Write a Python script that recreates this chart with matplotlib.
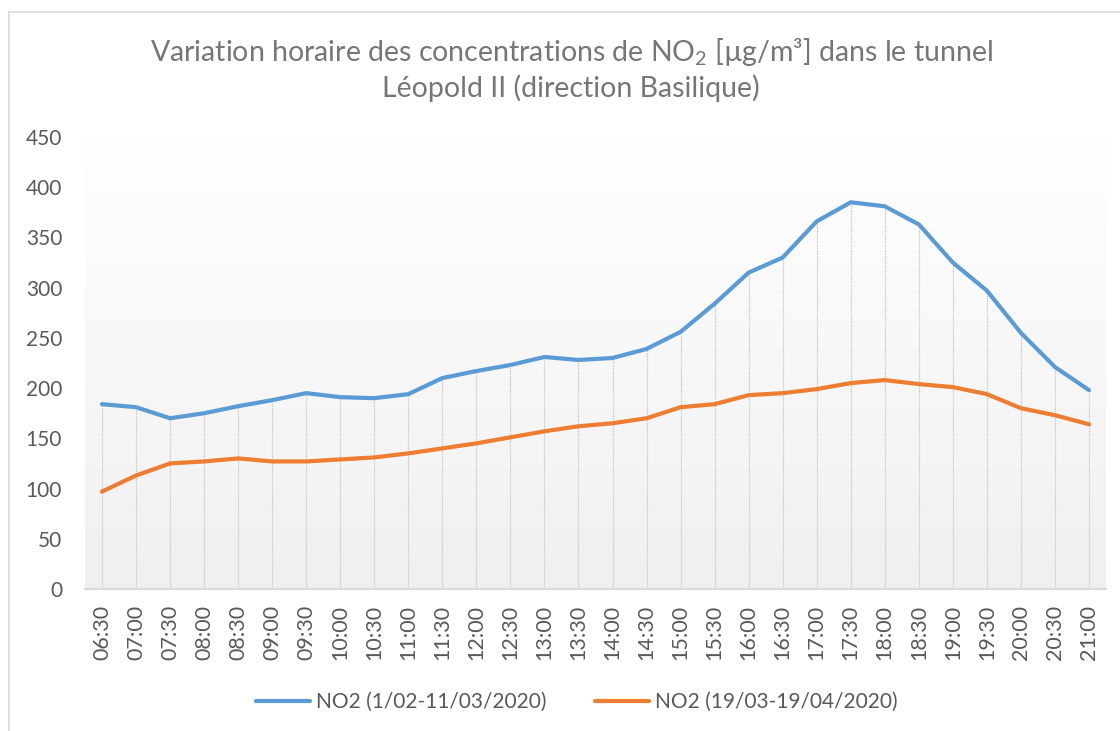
import numpy as np
import matplotlib
matplotlib.use("Agg")
import matplotlib.pyplot as plt
from matplotlib.lines import Line2D
from matplotlib.colors import LinearSegmentedColormap

hours = ["06:30", "07:00", "07:30", "08:00", "08:30", "09:00", "09:30", "10:00",
         "10:30", "11:00", "11:30", "12:00", "12:30", "13:00", "13:30", "14:00",
         "14:30", "15:00", "15:30", "16:00", "16:30", "17:00", "17:30", "18:00",
         "18:30", "19:00", "19:30", "20:00", "20:30", "21:00"]
no2_before = [184, 181, 170, 175, 182, 188, 195, 191, 190, 194, 210, 217, 223, 231,
              228, 230, 239, 256, 284, 315, 330, 366, 385, 381, 363, 325, 297, 255, 221, 198]
no2_lockdown = [97, 113, 125, 127, 130, 127, 127, 129, 131, 135, 140, 145, 151, 157,
                162, 165, 170, 181, 184, 193, 195, 199, 205, 208, 204, 201, 194, 180, 173, 164]
label_before = "NO2 (1/02-11/03/2020)"
label_lockdown = "NO2 (19/03-19/04/2020)"
yticks = [0, 50, 100, 150, 200, 250, 300, 350, 400, 450]

FONT = "Lato"
TXT = "#595959"
TITLE_C = "#767676"
plt.rcParams['font.family'] = [FONT, 'DejaVu Sans']
plt.rcParams['mathtext.fontset'] = 'custom'
plt.rcParams['mathtext.rm'] = FONT

W, H = 1120, 731
fig = plt.figure(figsize=(W / 100, H / 100), dpi=100)
fig.patch.set_facecolor("white")

ax = fig.add_axes([85 / W, 1 - 589 / H, (1106 - 85) / W, (589 - 137) / H])
ax.set_facecolor("none")

# gradient background
grad = np.linspace(0, 1, 256).reshape(-1, 1)
cmap = LinearSegmentedColormap.from_list("g", ["#f0f0f0", "#ffffff"])
ax.imshow(grad, extent=[0, 1, 0, 1], transform=ax.transAxes, aspect="auto",
          cmap=cmap, origin="lower", zorder=0, interpolation="bicubic")

x = np.arange(len(hours))
top = np.maximum(no2_before, no2_lockdown)
ax.vlines(x, 0, top, colors="#bfbfbf", linestyles=(0, (1, 1)), linewidth=0.9, zorder=1)

ax.plot(x, no2_before, color="#5b9bd5", lw=3.0, solid_capstyle="round",
        solid_joinstyle="round", label=label_before, zorder=3)
ax.plot(x, no2_lockdown, color="#ed7d31", lw=3.0, solid_capstyle="round",
        solid_joinstyle="round", label=label_lockdown, zorder=3)

ax.set_xlim(-0.5, len(hours) - 0.5)
ax.set_ylim(0, 450)
ax.set_yticks(yticks)
ax.set_yticklabels([str(v) for v in yticks])
ax.set_xticks(x)
ax.set_xticklabels(hours, rotation=90)
ax.tick_params(axis="both", length=0, labelcolor=TXT)
ax.tick_params(axis="y", pad=16.5, labelsize=15)
ax.tick_params(axis="x", pad=11.5, labelsize=15.5)
for s in ["top", "right", "left"]:
    ax.spines[s].set_visible(False)
ax.spines["bottom"].set_color("#d9d9d9")
ax.spines["bottom"].set_linewidth(1.6)
ax.spines["bottom"].set_zorder(4)

fig.text(571 / W, 1 - 52 / H,
         "Variation horaire des concentrations de NO$_\\mathregular{2}$ [µg/m³] dans le tunnel",
         ha="center", va="center", color=TITLE_C, fontsize=20.5)
fig.text(571 / W, 1 - 88 / H, "Léopold II (direction Basilique)",
         ha="center", va="center", color=TITLE_C, fontsize=20.5)

leg = fig.legend(loc="center", bbox_to_anchor=(577 / W, 1 - 702 / H), ncol=2,
                 frameon=False, fontsize=15, handlelength=2.6, columnspacing=2.3,
                 handletextpad=0.3)
for t in leg.get_texts():
    t.set_color(TXT)

# chart border (left and top visible)
fig.add_artist(Line2D([8.5 / W, 8.5 / W], [0, 1 - 12 / H], transform=fig.transFigure,
                      color="#d9d9d9", lw=1.2))
fig.add_artist(Line2D([8.5 / W, 1.0], [1 - 12 / H, 1 - 12 / H], transform=fig.transFigure,
                      color="#d9d9d9", lw=1.2))

fig.savefig("out.png", dpi=100)
